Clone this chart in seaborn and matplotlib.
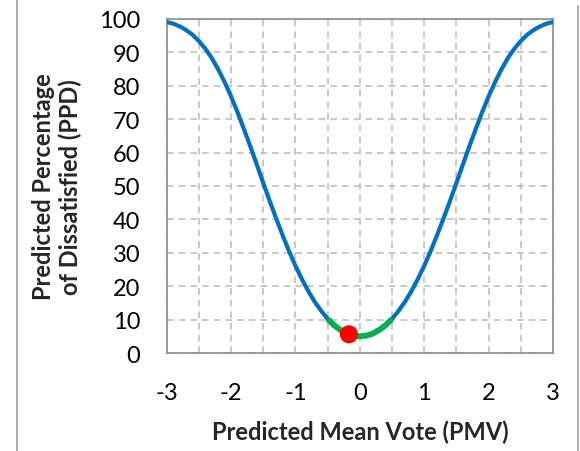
import matplotlib
matplotlib.use('Agg')
import matplotlib.pyplot as plt
import seaborn as sns
import pandas as pd
from matplotlib.lines import Line2D

# PMV values and PPD (symmetric around 0)
pmv = [-3.0, -2.9, -2.8, -2.7, -2.6, -2.5, -2.4, -2.3, -2.2, -2.1, -2.0,
       -1.9, -1.8, -1.7, -1.6, -1.5, -1.4, -1.3, -1.2, -1.1, -1.0,
       -0.9, -0.8, -0.7, -0.6, -0.5, -0.4, -0.3, -0.2, -0.1, 0.0,
       0.1, 0.2, 0.3, 0.4, 0.5, 0.6, 0.7, 0.8, 0.9, 1.0,
       1.1, 1.2, 1.3, 1.4, 1.5, 1.6, 1.7, 1.8, 1.9, 2.0,
       2.1, 2.2, 2.3, 2.4, 2.5, 2.6, 2.7, 2.8, 2.9, 3.0]
ppd = [99.1, 98.6, 97.8, 96.7, 95.3, 93.4, 91.1, 88.3, 84.9, 81.1, 76.8,
       72.1, 67.0, 61.8, 56.4, 50.9, 45.5, 40.3, 35.3, 30.5, 26.1,
       22.1, 18.5, 15.3, 12.6, 10.2, 8.3, 6.9, 5.8, 5.2, 5.0,
       5.2, 5.8, 6.9, 8.3, 10.2, 12.6, 15.3, 18.5, 22.1, 26.1,
       30.5, 35.3, 40.3, 45.5, 50.9, 56.4, 61.8, 67.0, 72.1, 76.8,
       81.1, 84.9, 88.3, 91.1, 93.4, 95.3, 96.7, 97.8, 98.6, 99.1]

# comfort zone (-0.5 .. 0.5)
green_lo, green_hi = -0.5, 0.5
# current state point
pt_pmv = [-0.17]
pt_ppd = [5.6]

df = pd.DataFrame({'PMV': pmv, 'PPD': ppd})
comfort = df[(df['PMV'] >= green_lo) & (df['PMV'] <= green_hi)]

sns.set_style('white')
plt.rcParams['font.family'] = ['Lato', 'DejaVu Sans']
plt.rcParams['axes.unicode_minus'] = False

fig = plt.figure(figsize=(5.8, 4.52), dpi=100)
ax = fig.add_axes([0.2874, 0.2168, 0.6660, 0.7390])

sns.lineplot(data=df, x='PMV', y='PPD', ax=ax, color='#0070C0', linewidth=3, zorder=3)
sns.lineplot(data=comfort, x='PMV', y='PPD', ax=ax, color='#00B050', linewidth=4.2,
             zorder=4, solid_capstyle='butt')
sns.scatterplot(x=pt_pmv, y=pt_ppd, ax=ax, color='#FF0000', s=170, edgecolor='none', zorder=5)

ax.set_xlim(-3, 3)
ax.set_ylim(0, 100)
ax.set_xticks([-3, -2, -1, 0, 1, 2, 3])
ax.set_xticks([-2.5, -1.5, -0.5, 0.5, 1.5, 2.5], minor=True)
ax.set_yticks(range(0, 101, 10))
ax.grid(True, which='both', axis='x', color='#BFBFBF', linestyle=(0, (4, 3)), linewidth=1.2)
ax.grid(True, which='major', axis='y', color='#BFBFBF', linestyle=(0, (4, 3)), linewidth=1.2)
ax.set_axisbelow(True)

for s in ax.spines.values():
    s.set_color('#8C8C8C')
    s.set_linewidth(1.2)

ax.tick_params(axis='both', which='major', direction='out', length=7, width=1.2,
               color='#8C8C8C', labelsize=17, labelcolor='black')
ax.tick_params(axis='y', which='major', pad=12)
ax.tick_params(axis='x', which='major', pad=14)
ax.tick_params(axis='x', which='minor', length=0)

ax.set_xlabel('Predicted Mean Vote (PMV)', fontsize=17, fontweight='bold', labelpad=12)
ax.set_ylabel('Predicted Percentage\nof Dissatisfied (PPD)', fontsize=17,
              fontweight='bold', labelpad=12)

# thin frame lines at the image edges
fig.add_artist(Line2D([17 / 580, 17 / 580], [0, 1], color='#A0A0A0', linewidth=1.2))
fig.add_artist(Line2D([578 / 580, 578 / 580], [0, 0.985], color='#A0A0A0', linewidth=1.2))

fig.savefig('out.png', dpi=100)
